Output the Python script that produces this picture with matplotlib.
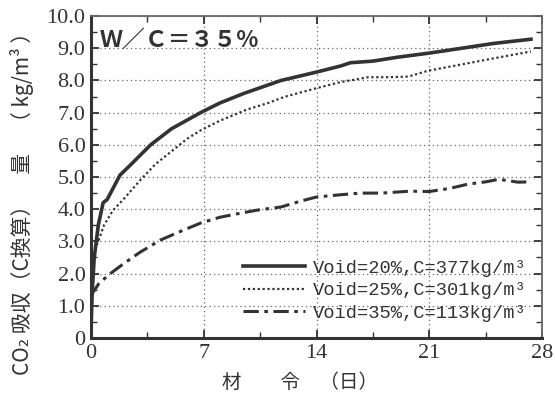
import matplotlib
matplotlib.use('Agg')
import matplotlib.pyplot as plt
from matplotlib.ticker import MultipleLocator, FixedLocator

# データ
days_20 = [0, 0.08, 0.2, 0.45, 0.75, 1.0, 1.8, 2.5, 3.4, 3.7, 5.0, 6.8, 8.0, 9.5, 11.8, 14.0, 15.5, 16.1, 17.5, 19.0, 21.0, 23.0, 25.0, 27.3]
co2_20 = [0.3, 1.5, 2.5, 3.5, 4.2, 4.3, 5.06, 5.4, 5.85, 6.0, 6.5, 7.0, 7.3, 7.6, 8.0, 8.26, 8.45, 8.55, 8.6, 8.72, 8.85, 9.0, 9.15, 9.28]

days_25 = [0, 0.2, 0.45, 0.8, 1.37, 2.0, 3.05, 4.0, 5.1, 6.0, 6.8, 8.0, 9.7, 11.0, 12.0, 14.0, 15.5, 17.2, 18.5, 19.7, 20.9, 22.5, 24.4, 26.0, 27.3]
co2_25 = [2.0, 2.7, 3.0, 3.5, 3.97, 4.3, 4.9, 5.4, 5.84, 6.2, 6.45, 6.75, 7.1, 7.3, 7.49, 7.76, 7.95, 8.1, 8.1, 8.12, 8.3, 8.45, 8.63, 8.78, 8.9]

days_35 = [0, 0.1, 0.5, 1.2, 2.0, 3.0, 4.3, 5.5, 6.8, 8.0, 9.0, 10.3, 11.8, 13.0, 14.0, 15.5, 16.7, 18.0, 19.8, 21.0, 22.3, 23.4, 24.5, 25.3, 26.5, 27.3]
co2_35 = [1.3, 1.4, 1.7, 2.0, 2.3, 2.65, 3.04, 3.3, 3.57, 3.75, 3.85, 3.97, 4.07, 4.25, 4.38, 4.45, 4.5, 4.5, 4.56, 4.55, 4.65, 4.78, 4.85, 4.93, 4.84, 4.85]

labels = ['Void=20%,C=377kg/m³', 'Void=25%,C=301kg/m³', 'Void=35%,C=113kg/m³']
x_ticks = [0, 7, 14, 21, 28]
y_ticks = [0, 1, 2, 3, 4, 5, 6, 7, 8, 9, 10]
y_ticklabels = ['0', '1.0', '2.0', '3.0', '4.0', '5.0', '6.0', '7.0', '8.0', '9.0', '10.0']

ink = '#333333'
num_font = 'Liberation Serif'
cjk = ['Noto Sans CJK JP', 'DejaVu Sans']

fig = plt.figure(figsize=(5.55, 3.96), dpi=100)
ax = fig.add_axes([0.164, 0.1465, 0.813, 0.813])

ax.plot(days_20, co2_20, color=ink, lw=2.6, ls='-', label=labels[0])
ax.plot(days_25, co2_25, color=ink, lw=1.6, ls=(0, (1, 1.2)), label=labels[1])
ax.plot(days_35, co2_35, color=ink, lw=2.2, ls=(0, (5, 1.8, 1.2, 1.8)), label=labels[2])

ax.set_xlim(0, 28)
ax.set_ylim(0, 10)
ax.xaxis.set_major_locator(FixedLocator(x_ticks))
ax.xaxis.set_minor_locator(MultipleLocator(3.5))
ax.yaxis.set_major_locator(FixedLocator(y_ticks))
ax.yaxis.set_minor_locator(MultipleLocator(0.5))
ax.set_xticklabels([str(t) for t in x_ticks], fontfamily=num_font, fontsize=16, color=ink)
ax.set_yticklabels(y_ticklabels, fontfamily=num_font, fontsize=16, color=ink)
ax.tick_params(which='both', direction='in', top=True, right=True, color=ink)
ax.tick_params(which='major', length=6, width=1.3, pad=4)
ax.tick_params(which='minor', length=4, width=1.0)

# 点線グリッド
ax.grid(True, which='major', ls=(0, (1, 2.5)), color='#666666', lw=0.9)

for side in ['left', 'bottom']:
    ax.spines[side].set_linewidth(2.2)
    ax.spines[side].set_color(ink)
for side in ['top', 'right']:
    ax.spines[side].set_linewidth(1.3)
    ax.spines[side].set_color('#666666')

ax.text(0.02, 0.96, 'Ｗ／Ｃ＝３５%', transform=ax.transAxes, fontsize=16.5,
        fontweight='bold', family=cjk, color=ink, va='top', ha='left')

leg = ax.legend(loc='lower right', bbox_to_anchor=(1.0, 0.0), frameon=False,
                prop={'family': 'Liberation Mono', 'size': 13.5}, handlelength=3.3,
                handletextpad=0.4, labelspacing=0.3, borderaxespad=0.45)
for t in leg.get_texts():
    t.set_color(ink)

fig.text(0.54, 0.035, '材　　令　（日）', fontsize=14, family=cjk, color=ink,
         ha='center', va='center')
fig.text(0.04, 0.5, 'CO₂ 吸収（C換算）　量　（ kg/m³ ）', fontsize=15, family=cjk,
         color=ink, rotation=90, ha='center', va='center')

fig.savefig('out.png', dpi=100)
